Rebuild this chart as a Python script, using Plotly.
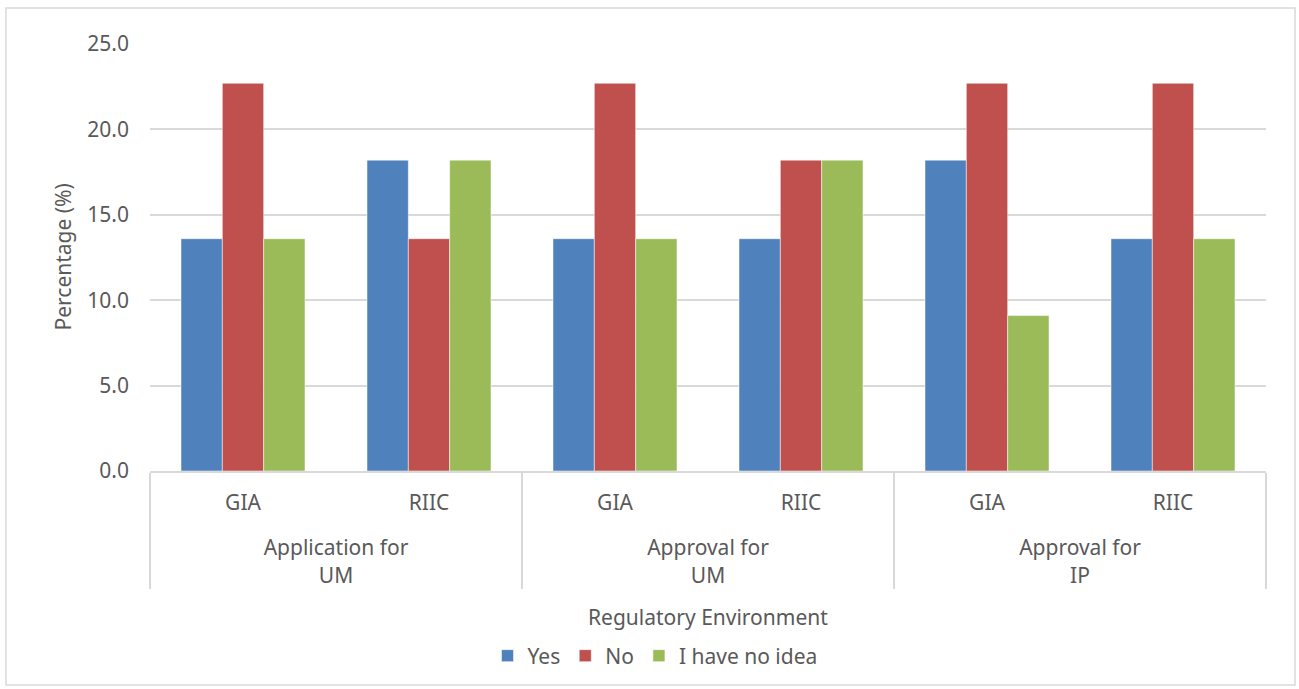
import plotly.graph_objects as go

outer = ["Application for<br>UM", "Application for<br>UM",
         "Approval for<br>UM", "Approval for<br>UM",
         "Approval for<br>IP", "Approval for<br>IP"]
inner = ["GIA", "RIIC", "GIA", "RIIC", "GIA", "RIIC"]

yes = [13.6, 18.2, 13.6, 13.6, 18.2, 13.6]
no = [22.7, 13.6, 22.7, 18.2, 22.7, 22.7]
no_idea = [13.6, 18.2, 13.6, 18.2, 9.1, 13.6]

series = [("Yes", yes, "#4F81BD"), ("No", no, "#C0504D"), ("I have no idea", no_idea, "#9BBB59")]

FONT = "Noto Sans"
GRAY = "#595959"
FS = 21

fig = go.Figure()
for name, vals, col in series:
    fig.add_trace(go.Bar(x=[outer, [s + "<br> " for s in inner]], y=vals, name=name,
                         marker=dict(color=col, line=dict(color="white", width=0.5))))

L, R, T, B = 150, 33, 44, 218
W, H = 1299, 689
pw, ph = W - L - R, H - T - B

def px(x):
    return (x - L) / pw

def py(y):
    return (H - B - y) / ph

fig.update_layout(
    width=W, height=H,
    margin=dict(l=L, r=R, t=T, b=B),
    paper_bgcolor="white", plot_bgcolor="white",
    barmode="group", bargap=1/3, bargroupgap=0,
    font=dict(family=FONT, size=FS, color=GRAY),
    showlegend=True,
    legend=dict(orientation="h", x=px(655), xanchor="center", y=py(656), yanchor="middle",
                font=dict(size=FS, color=GRAY), itemwidth=30, traceorder="normal"),
    xaxis=dict(type="multicategory", showgrid=False, showline=True, linecolor="#d9d9d9",
               linewidth=1.5, dividercolor="#d9d9d9", dividerwidth=1.5,
               tickfont=dict(size=FS, color=GRAY), ticks="", ticklabelstandoff=12),
    yaxis=dict(range=[0, 25], dtick=5, tickformat=".1f", showgrid=True, gridcolor="#d9d9d9",
               gridwidth=1.5, zeroline=False, showline=False, ticks="",
               ticklabelstandoff=20, tickfont=dict(size=FS, color=GRAY)),
    annotations=[
        dict(text="Regulatory Environment", xref="paper", yref="paper", x=0.5, y=py(617),
             xanchor="center", yanchor="middle", showarrow=False, font=dict(size=FS, color=GRAY)),
        dict(text="Percentage (%)", xref="paper", yref="paper", x=px(62), y=0.5,
             xanchor="center", yanchor="middle", textangle=-90, showarrow=False,
             font=dict(size=FS, color=GRAY)),
    ],
    shapes=[dict(type="rect", xref="paper", yref="paper", x0=px(6), x1=px(1295),
                 y0=py(685), y1=py(8), line=dict(color="#d9d9d9", width=1.5), layer="below")],
)

fig.write_html("out.html")
